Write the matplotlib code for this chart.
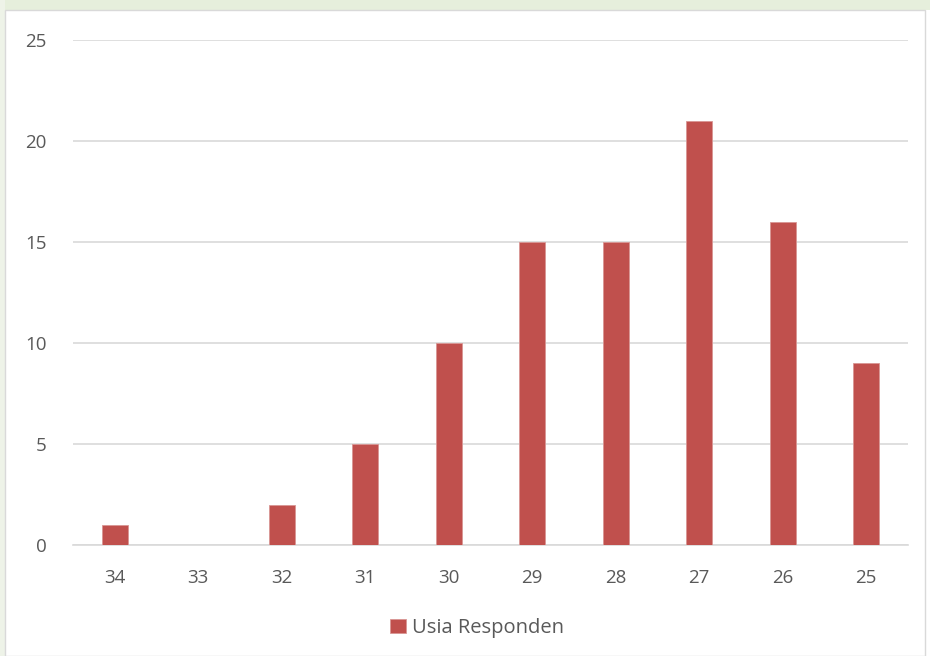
import matplotlib.pyplot as plt
from matplotlib.patches import Rectangle

usia = ['34', '33', '32', '31', '30', '29', '28', '27', '26', '25']
jumlah = [1, 0, 2, 5, 10, 15, 15, 21, 16, 9]
yticks = [0, 5, 10, 15, 20, 25]

plt.rcParams['font.family'] = ['Open Sans', 'DejaVu Sans']

fig = plt.figure(figsize=(9.3, 6.56), dpi=100)
fig.patch.set_facecolor('white')

# pale strip along the top and left edge behind the chart frame
fig.patches.append(Rectangle((0, 1 - 10 / 656), 1, 10 / 656, transform=fig.transFigure,
                             facecolor='#e6efdc', edgecolor='none', zorder=0))
fig.patches.append(Rectangle((0, 0), 5 / 930, 1, transform=fig.transFigure,
                             facecolor='#eef3e8', edgecolor='none', zorder=0))
fig.patches.append(Rectangle((5 / 930, 0), 920 / 930, 646 / 656, transform=fig.transFigure,
                             facecolor='white', edgecolor='#d9d9d9', linewidth=1, zorder=1))

ax = fig.add_axes([73 / 930, (656 - 545) / 656, (908 - 73) / 930, (545 - 40) / 656])
ax.set_facecolor('none')
ax.set_zorder(2)

x = range(len(usia))
ax.bar(x, jumlah, width=0.31, color='#c0504d', edgecolor='#d99694', linewidth=0.6,
       label='Usia Responden', zorder=3)

ax.set_xlim(-0.5, len(usia) - 0.5)
ax.set_ylim(0, 25)
ax.set_yticks(yticks)
ax.set_xticks(list(x))
ax.set_xticklabels(usia)
ax.grid(axis='y', color='#d9d9d9', linewidth=1.2, zorder=0)
ax.set_axisbelow(True)
for s in ['top', 'right', 'left']:
    ax.spines[s].set_visible(False)
ax.spines['bottom'].set_color('#d9d9d9')
ax.spines['bottom'].set_linewidth(1.2)
ax.tick_params(axis='both', length=0, labelsize=13.5, colors='#595959')
ax.tick_params(axis='y', pad=19)
ax.tick_params(axis='x', pad=17)

leg = fig.legend(loc='center', bbox_to_anchor=(477 / 930, (656 - 628) / 656), frameon=False,
                 fontsize=14.5, handlelength=0.75, handleheight=0.75, handletextpad=0.3)
for t in leg.get_texts():
    t.set_color('#595959')

fig.savefig('out.png', dpi=100)
